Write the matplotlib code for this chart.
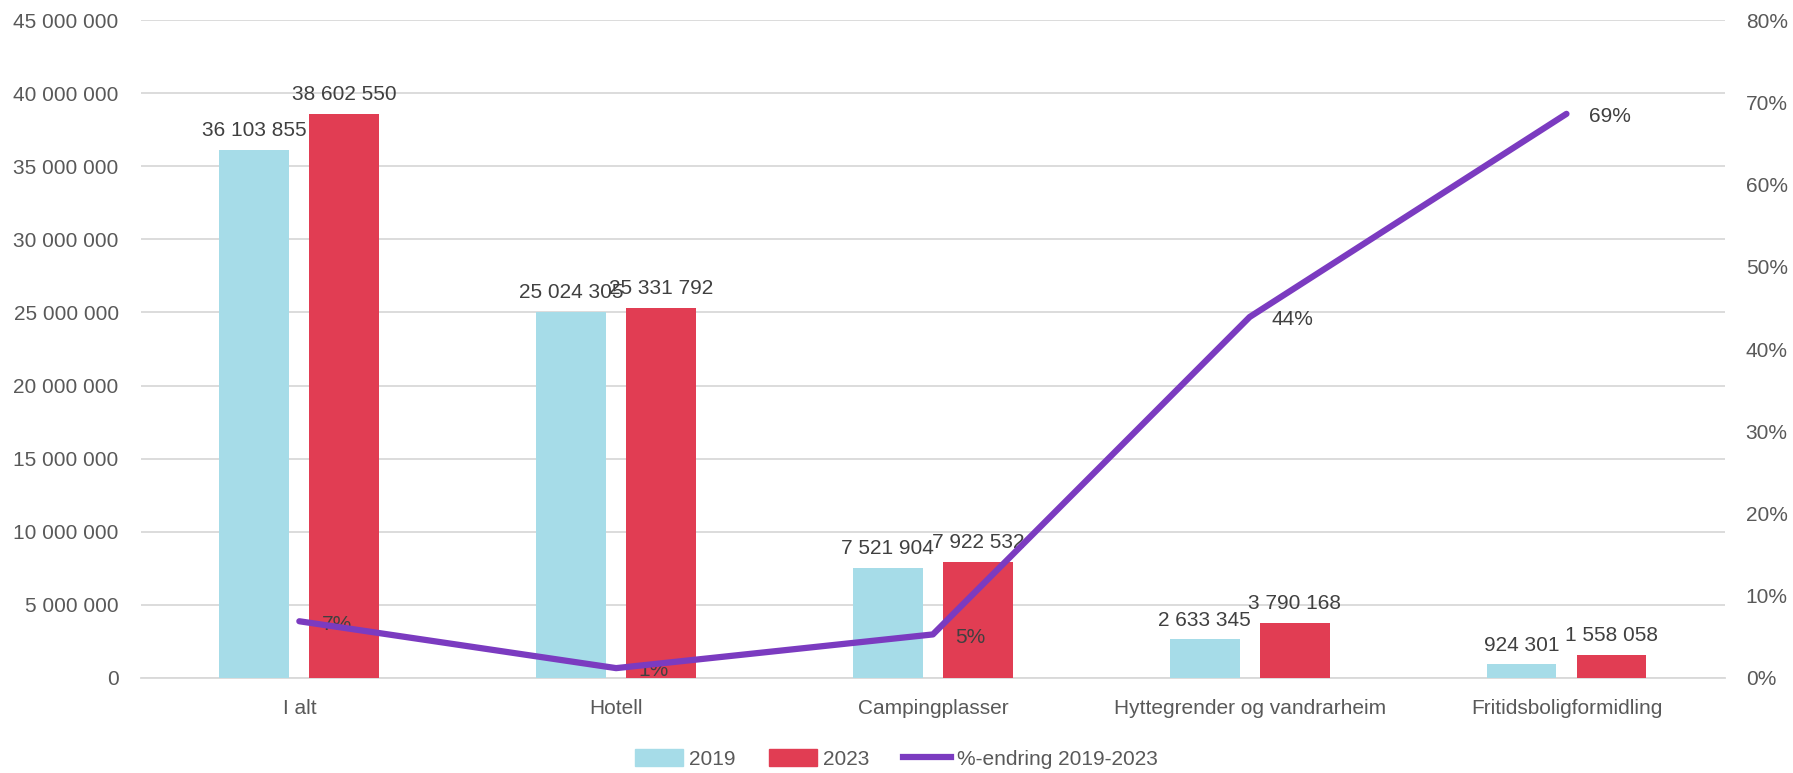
import numpy as np
import matplotlib
matplotlib.use("Agg")
import matplotlib.pyplot as plt
from matplotlib.ticker import FuncFormatter, MultipleLocator
from matplotlib.lines import Line2D
from matplotlib.patches import Patch

categories = ["I alt", "Hotell", "Campingplasser", "Hyttegrender og vandrarheim", "Fritidsboligformidling"]
v2019 = [36103855, 25024305, 7521904, 2633345, 924301]
v2023 = [38602550, 25331792, 7922532, 3790168, 1558058]
pct_change = [0.069, 0.012, 0.053, 0.439, 0.686]
pct_labels = ["7%", "1%", "5%", "44%", "69%"]

c19 = "#A6DCE8"
c23 = "#E13D53"
cline = "#7B3BC0"
txt = "#595959"
lbl = "#404040"

plt.rcParams['font.family'] = ['Liberation Sans', 'DejaVu Sans']
plt.rcParams['font.size'] = 15

def spaced(v, pos=None):
    return f"{int(round(v)):,}".replace(",", " ")

fig = plt.figure(figsize=(17.93, 7.73), dpi=100)
ax = fig.add_axes([0.0786, 0.1229, 0.962 - 0.0786, 0.974 - 0.1229])
ax2 = ax.twinx()

x = np.arange(len(categories))
w = 0.22
off = 0.142
b1 = ax.bar(x - off, v2019, w, color=c19, zorder=3)
b2 = ax.bar(x + off, v2023, w, color=c23, zorder=3)

for rect, v in list(zip(b1, v2019)) + list(zip(b2, v2023)):
    ax.annotate(spaced(v), (rect.get_x() + rect.get_width() / 2, v),
                xytext=(0, 7), textcoords="offset points",
                ha="center", va="bottom", color=lbl, fontsize=15, zorder=5)

ax.set_xlim(-0.5, len(categories) - 0.5)
ax.set_ylim(0, 45000000)
ax.yaxis.set_major_locator(MultipleLocator(5000000))
ax.yaxis.set_major_formatter(FuncFormatter(spaced))
ax.grid(axis="y", color="#D9D9D9", linewidth=1.3, zorder=0)
ax.set_axisbelow(True)
ax.set_xticks(x)
ax.set_xticklabels(categories)
ax.tick_params(axis="x", length=0, pad=15, colors=txt)
ax.tick_params(axis="y", length=0, pad=16, colors=txt)
for s in ["top", "right", "left"]:
    ax.spines[s].set_visible(False)
ax.spines["bottom"].set_color("#D9D9D9")
ax.spines["bottom"].set_linewidth(1.3)

ax2.plot(x, pct_change, color=cline, linewidth=4.5, zorder=4, solid_capstyle="round")
for xi, p, t in zip(x, pct_change, pct_labels):
    ax2.annotate(t, (xi, p), xytext=(16, -2), textcoords="offset points",
                 ha="left", va="center", color=lbl, fontsize=15)
ax2.set_ylim(0, 0.8)
ax2.yaxis.set_major_locator(MultipleLocator(0.1))
ax2.yaxis.set_major_formatter(FuncFormatter(lambda v, p: f"{v * 100:.0f}%"))
ax2.tick_params(axis="y", length=0, pad=15, colors=txt)
for s in ax2.spines.values():
    s.set_visible(False)

handles = [Patch(color=c19), Patch(color=c23), Line2D([], [], color=cline, linewidth=4.5)]
leg = fig.legend(handles, ["2019", "2023", "%-endring 2019-2023"], loc="center",
                 bbox_to_anchor=(0.5, 0.018), ncol=3, frameon=False,
                 handlelength=2.3, handleheight=0.9, handletextpad=0.3, columnspacing=1.6,
                 fontsize=15)
for t in leg.get_texts():
    t.set_color(txt)

fig.savefig("out.png", dpi=100)
